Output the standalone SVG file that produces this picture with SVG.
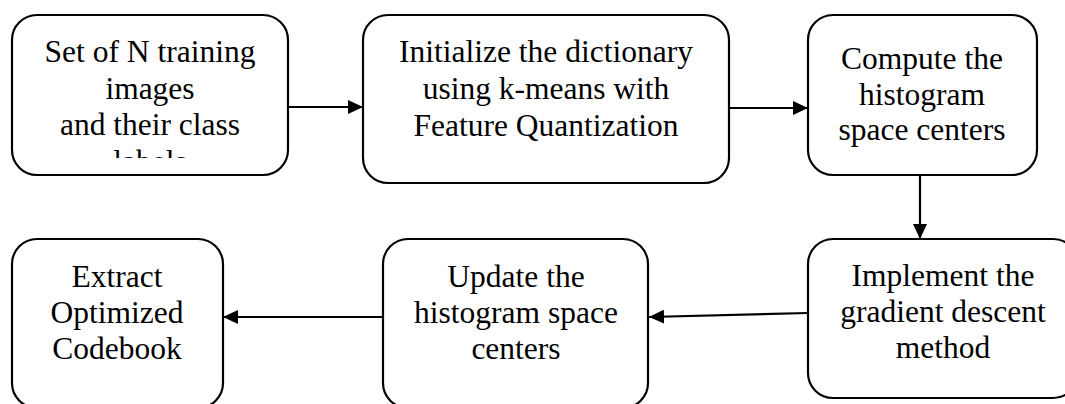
<svg xmlns="http://www.w3.org/2000/svg" width="1065" height="404" viewBox="0 0 1065 404">
<style>
.box{fill:#fff;stroke:#000;stroke-width:2.2}
.t{font-family:"Liberation Serif","Times New Roman",serif;font-size:31.5px;fill:#000;text-anchor:middle}
.c{stroke:#000;stroke-width:2.2;fill:none}
</style>
<defs>
<marker id="ah" viewBox="0 0 15 14" refX="15" refY="7" markerWidth="15" markerHeight="14" markerUnits="userSpaceOnUse" orient="auto">
<path d="M0,0 L15,7 L0,14 Z" fill="#000"/>
</marker>
<clipPath id="clip1"><rect x="12" y="15" width="276" height="143"/></clipPath>
</defs>
<rect width="1065" height="404" fill="#fff"/>
<g id="connectors">
<line class="c" x1="288" y1="107" x2="363" y2="107" marker-end="url(#ah)"/>
<line class="c" x1="729" y1="108" x2="808" y2="108" marker-end="url(#ah)"/>
<line class="c" x1="920" y1="175" x2="920" y2="239" marker-end="url(#ah)"/>
<line class="c" x1="808" y1="313" x2="649" y2="317" marker-end="url(#ah)"/>
<line class="c" x1="383" y1="317" x2="223" y2="317" marker-end="url(#ah)"/>
</g>
<g id="n1">
<rect class="box" x="12" y="15" width="276" height="160" rx="25"/>
<g clip-path="url(#clip1)">
<text class="t" x="150" y="62">Set of N training</text>
<text class="t" x="150" y="98.5">images</text>
<text class="t" x="150" y="135">and their class</text>
<text class="t" x="150" y="171.5">labels</text>
</g>
</g>
<g id="n2">
<rect class="box" x="363" y="15" width="366" height="168" rx="25"/>
<text class="t" x="546" y="62">Initialize the dictionary</text>
<text class="t" x="546" y="99">using k-means with</text>
<text class="t" x="546" y="136">Feature Quantization</text>
</g>
<g id="n3">
<rect class="box" x="808" y="15" width="229" height="160" rx="25"/>
<text class="t" x="922" y="69">Compute the</text>
<text class="t" x="922" y="105">histogram</text>
<text class="t" x="922" y="140">space centers</text>
</g>
<g id="n4">
<rect class="box" x="808" y="239" width="270" height="159" rx="25"/>
<text class="t" x="943" y="286">Implement the</text>
<text class="t" x="943" y="322">gradient descent</text>
<text class="t" x="943" y="358">method</text>
</g>
<g id="n5">
<rect class="box" x="383" y="239" width="265" height="169" rx="25"/>
<text class="t" x="516" y="287">Update the</text>
<text class="t" x="516" y="323">histogram space</text>
<text class="t" x="516" y="359">centers</text>
</g>
<g id="n6">
<rect class="box" x="12" y="239" width="211" height="169" rx="25"/>
<text class="t" x="117" y="287">Extract</text>
<text class="t" x="117" y="323">Optimized</text>
<text class="t" x="117" y="359">Codebook</text>
</g>
</svg>
